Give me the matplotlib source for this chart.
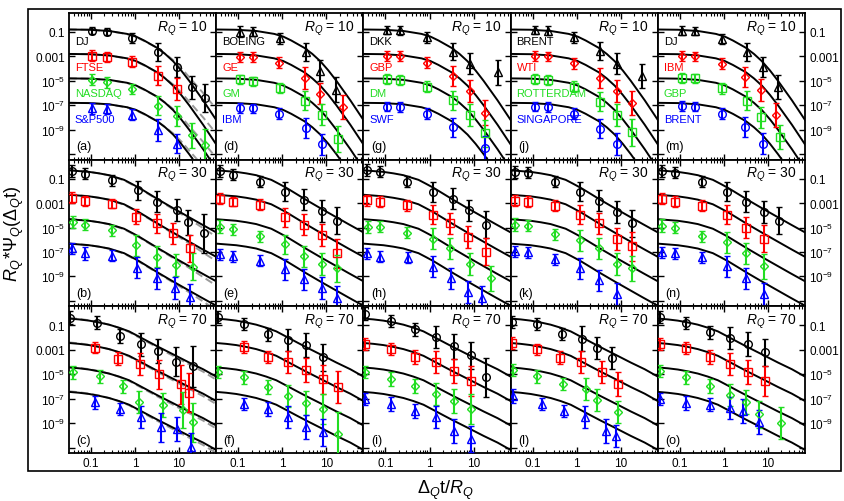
import numpy as np
import matplotlib.pyplot as plt
from matplotlib.patches import Rectangle
from matplotlib.ticker import FixedLocator, FixedFormatter, NullLocator, NullFormatter

plt.rcParams['font.family'] = ['Liberation Sans', 'DejaVu Sans']
plt.rcParams['mathtext.fontset'] = 'custom'
plt.rcParams['mathtext.rm'] = 'Liberation Sans'
plt.rcParams['mathtext.it'] = 'Liberation Sans:italic'

# fitted scaling curves (top series); lower series are shifted by 1e-2 each
fit1_x = [0.0316, 0.0901, 0.256, 0.658, 1.05, 1.6, 3.16, 4.81, 7.31, 11.1, 16.9, 35.1, 69.3]
fit1_logy = [-0.80, -0.82, -0.92, -1.16, -1.38, -1.7, -2.3, -2.8, -3.4, -4.15, -5.0, -6.6, -8.2]
gray1_logy = [-0.80, -0.82, -0.93, -1.18, -1.42, -1.74, -2.3, -2.78, -3.3, -3.95, -4.7, -6.0, -7.3]
fit2_x = [0.0316, 0.0901, 0.152, 0.256, 0.562, 0.811, 1.23, 2.08, 3.51, 7.31, 15.2, 31.6, 69.3]
fit2_logy = [-0.32, -0.45, -0.57, -0.72, -1.1, -1.4, -1.75, -2.25, -2.75, -3.42, -4.07, -4.72, -5.4]
gray2_logy = [-0.3, -0.44, -0.57, -0.74, -1.14, -1.45, -1.8, -2.3, -2.8, -3.5, -4.2, -4.95, -5.75]
fit3_x = [0.0316, 0.0534, 0.0901, 0.152, 0.256, 0.433, 0.731, 1.23, 2.08, 3.51, 7.7, 16.9, 35.1, 69.3]
fit3_logy = [-0.45, -0.52, -0.62, -0.77, -0.95, -1.2, -1.5, -1.93, -2.37, -2.8, -3.42, -4.05, -4.6, -5.2]
gray3_logy = [-0.4, -0.48, -0.59, -0.75, -0.95, -1.22, -1.55, -2.0, -2.45, -2.9, -3.55, -4.2, -4.8, -5.45]

rq_values = [10, 30, 70]
names = [["DJ", "FTSE", "NASDAQ", "S&P500"],
         ["BOEING", "GE", "GM", "IBM"],
         ["DKK", "GBP", "DM", "SWF"],
         ["BRENT", "WTI", "ROTTERDAM", "SINGAPORE"],
         ["DJ", "IBM", "GBP", "BRENT"]]

# ---- R_Q = 10 ----
a_x = [[0.105, 0.231, 0.855, 3.33, 9.01, 19.7, 39.0], [0.105, 0.231, 0.855, 3.33, 9.01],
       [0.105, 0.231, 0.855, 3.33, 9.01, 19.7, 39.0], [0.105, 0.231, 0.855, 3.33, 9.01]]
a_logy = [[-0.89, -0.98, -1.52, -2.66, -3.88, -5.52, -6.41], [-2.94, -3.07, -3.42, -4.57, -5.65],
          [-4.92, -5.11, -5.65, -7.02, -7.88, -9.47, -10.23], [-7.23, -7.29, -7.78, -9.06, -10.14]]
a_err = [[0.3, 0.3, 0.4, 0.75, 0.8, 0.95, 1.15], [0.45, 0.4, 0.45, 0.8, 0.9],
         [0.45, 0.45, 0.4, 0.8, 0.85, 1.0, 1.3], [0.45, 0.4, 0.45, 0.9, 0.75]]

d_x = [[0.111, 0.219, 0.901, 3.51, 7.31, 16.9], [0.111, 0.219, 0.855, 3.33, 7.31, 24.3],
       [0.111, 0.219, 0.901, 3.33, 8.11, 18.7], [0.111, 0.219, 0.855, 3.51, 8.11]]
d_logy = [[-0.98, -0.98, -1.52, -2.66, -4.16, -5.71], [-3.07, -3.07, -3.53, -4.78, -6.06, -7.15],
          [-4.89, -5.05, -5.57, -6.61, -7.78, -9.74], [-7.2, -7.26, -7.7, -8.87, -10.2]]
d_err = [[0.45, 0.35, 0.45, 0.75, 0.85, 1.05], [0.4, 0.4, 0.45, 0.9, 0.85, 1.0],
         [0.35, 0.4, 0.4, 0.8, 0.85, 1.05], [0.4, 0.35, 0.45, 0.8, 0.85]]

g_x = [[0.111, 0.219, 0.855, 3.33, 8.11, 35.1], [0.111, 0.219, 0.855, 3.33, 8.11, 17.8],
       [0.111, 0.219, 0.855, 3.33, 8.11, 17.8], [0.111, 0.219, 0.855, 3.33, 17.8]]
g_logy = [[-0.85, -0.88, -1.45, -2.6, -3.6, -4.3], [-2.95, -2.98, -3.5, -4.6, -5.8, -7.6],
          [-4.85, -4.9, -5.5, -6.6, -7.8, -9.3], [-7.1, -7.15, -7.7, -8.8, -10.5]]
g_err = [[0.35, 0.35, 0.45, 0.7, 0.85, 1.0], [0.4, 0.4, 0.45, 0.8, 0.9, 1.0],
         [0.4, 0.4, 0.45, 0.8, 0.9, 1.1], [0.4, 0.4, 0.45, 0.8, 1.0]]

j_x = [[0.111, 0.219, 0.855, 3.33, 8.11, 30.0], [0.111, 0.219, 0.855, 3.33, 8.11, 17.8],
       [0.111, 0.219, 0.855, 3.33, 8.11, 17.8], [0.111, 0.219, 0.855, 3.33, 8.11]]
j_logy = [[-0.85, -0.9, -1.45, -2.55, -3.6, -4.6], [-2.95, -3.0, -3.55, -4.75, -5.85, -6.8],
          [-4.85, -4.9, -5.5, -6.7, -7.8, -9.2], [-7.1, -7.15, -7.7, -8.9, -10.2]]
j_err = [[0.35, 0.35, 0.45, 0.75, 0.85, 1.0], [0.4, 0.4, 0.45, 0.8, 0.9, 1.0],
         [0.4, 0.4, 0.45, 0.8, 0.9, 1.1], [0.4, 0.4, 0.45, 0.8, 0.9]]

m_x = [[0.111, 0.219, 0.901, 3.33, 7.7, 16.9], [0.111, 0.219, 0.901, 3.0, 6.93, 15.2],
       [0.111, 0.219, 0.901, 3.33, 6.93, 18.7], [0.111, 0.219, 0.901, 3.0, 7.7]]
m_logy = [[-0.9, -0.92, -1.57, -2.66, -3.88, -5.52], [-2.96, -3.0, -3.61, -4.7, -5.79, -7.78],
          [-4.76, -4.8, -5.6, -6.61, -7.97, -9.6], [-7.04, -7.1, -7.69, -8.78, -10.14]]
m_err = [[0.35, 0.35, 0.4, 0.75, 0.8, 1.0], [0.4, 0.4, 0.45, 0.8, 0.9, 1.0],
         [0.4, 0.4, 0.45, 0.8, 0.85, 1.0], [0.4, 0.4, 0.45, 0.8, 0.85]]

# ---- R_Q = 30 ----
b_x = [[0.037, 0.0731, 0.3, 1.17, 3.16, 9.01, 16.0, 37.0], [0.037, 0.0731, 0.3, 1.05, 3.16, 7.31, 17.8],
       [0.039, 0.0731, 0.3, 1.05, 3.16, 8.55, 20.8], [0.037, 0.0731, 0.3, 1.11, 3.16, 8.11, 17.8]]
b_logy = [[-0.40, -0.59, -1.14, -1.96, -2.90, -3.59, -4.59, -5.49],
          [-2.58, -2.85, -3.04, -4.12, -4.67, -5.49, -6.71],
          [-4.54, -4.76, -5.22, -6.45, -7.40, -8.08, -8.21],
          [-6.71, -7.12, -7.31, -8.29, -9.16, -9.92, -10.65]]
b_err = [[0.5, 0.45, 0.45, 0.8, 0.85, 0.9, 1.0, 1.6], [0.45, 0.4, 0.4, 0.6, 0.8, 0.85, 1.1],
         [0.5, 0.45, 0.45, 0.85, 0.85, 0.9, 1.1], [0.45, 0.5, 0.45, 0.85, 0.85, 0.9, 1.0]]

e_x = [[0.039, 0.077, 0.316, 1.17, 3.16, 8.11, 17.8], [0.039, 0.077, 0.316, 1.17, 3.16, 8.11, 17.8],
       [0.039, 0.077, 0.316, 1.17, 3.16, 8.11, 17.8], [0.039, 0.077, 0.316, 1.17, 3.16, 8.11, 17.8]]
e_logy = [[-0.35, -0.67, -1.25, -2.06, -2.72, -3.61, -4.43], [-2.63, -2.88, -3.12, -4.18, -4.76, -5.65, -7.12],
          [-4.92, -5.16, -5.73, -6.39, -7.37, -8.02, -8.35], [-7.2, -7.37, -7.7, -8.43, -9.25, -9.98, -10.8]]
e_err = [[0.5, 0.45, 0.45, 0.8, 0.85, 0.9, 1.1], [0.45, 0.4, 0.45, 0.8, 0.85, 0.9, 1.2],
         [0.5, 0.45, 0.45, 0.8, 0.85, 0.9, 1.1], [0.45, 0.45, 0.45, 0.85, 0.85, 0.9, 1.0]]

h_x = [[0.039, 0.077, 0.316, 1.23, 3.33, 7.7, 18.7], [0.039, 0.077, 0.316, 1.23, 2.85, 7.31, 18.7],
       [0.0411, 0.077, 0.316, 1.17, 2.85, 8.11, 24.3], [0.039, 0.077, 0.333, 1.23, 3.0, 7.31, 15.2]]
h_logy = [[-0.32, -0.45, -1.27, -2.09, -2.63, -3.59, -4.76], [-2.77, -2.90, -3.18, -3.94, -4.67, -5.76, -6.98],
          [-4.94, -4.94, -5.43, -5.90, -6.71, -8.02, -9.16], [-7.12, -7.39, -7.47, -8.21, -9.16, -10.25, -10.8]]
h_err = [[0.5, 0.45, 0.45, 0.8, 0.85, 0.85, 1.1], [0.45, 0.45, 0.45, 0.8, 0.85, 0.9, 1.1],
         [0.5, 0.45, 0.45, 0.85, 0.85, 0.9, 1.0], [0.45, 0.45, 0.45, 0.85, 0.85, 0.9, 1.0]]

k_x = [[0.039, 0.077, 0.316, 1.17, 3.16, 8.11, 17.8], [0.039, 0.077, 0.316, 1.17, 3.16, 8.11, 17.8],
       [0.039, 0.077, 0.316, 1.17, 3.16, 8.11, 17.8], [0.039, 0.077, 0.316, 1.17, 3.16, 8.11]]
k_logy = [[-0.43, -0.51, -1.25, -2.06, -2.8, -3.7, -4.67], [-2.8, -2.88, -3.2, -3.94, -4.67, -5.9, -6.55],
          [-4.76, -4.84, -5.57, -6.06, -6.71, -8.02, -8.35], [-6.96, -7.04, -7.61, -8.35, -9.33, -10.47]]
k_err = [[0.5, 0.45, 0.45, 0.8, 0.85, 0.9, 1.1], [0.45, 0.45, 0.45, 0.8, 0.85, 0.9, 1.2],
         [0.5, 0.45, 0.45, 0.85, 0.85, 0.9, 1.0], [0.45, 0.45, 0.45, 0.85, 0.85, 0.9]]

n_x = [[0.039, 0.077, 0.316, 1.17, 3.16, 8.11, 17.8], [0.039, 0.077, 0.316, 1.17, 3.16, 8.11],
       [0.039, 0.077, 0.316, 1.17, 3.16, 8.11], [0.039, 0.077, 0.316, 1.17, 3.16, 8.11]]
n_logy = [[-0.35, -0.51, -1.25, -2.06, -2.88, -3.7, -4.43], [-2.63, -2.88, -3.2, -3.94, -5.0, -5.9],
          [-4.84, -5.0, -5.73, -6.22, -7.12, -8.18], [-7.04, -7.12, -7.45, -8.18, -9.16, -10.47]]
n_err = [[0.5, 0.45, 0.45, 0.8, 0.85, 0.9, 1.1], [0.45, 0.45, 0.45, 0.8, 0.85, 1.1],
         [0.5, 0.45, 0.45, 0.85, 0.85, 1.0], [0.45, 0.45, 0.45, 0.85, 0.85, 0.9]]

# ---- R_Q = 70 ----
c_x = [[0.0333, 0.137, 0.456, 1.37, 3.33, 8.55, 20.8], [0.123, 0.411, 1.3, 3.51, 11.1, 16.9],
       [0.039, 0.16, 0.534, 1.23, 4.33, 12.3, 20.8], [0.123, 0.456, 1.37, 3.9, 9.01, 18.7]]
c_logy = [[-0.37, -0.78, -1.87, -2.55, -3.09, -3.99, -4.37], [-2.82, -3.72, -4.18, -5.0, -5.82, -6.5],
          [-4.86, -5.19, -6.0, -7.31, -7.53, -7.92, -8.94], [-7.31, -7.86, -8.54, -9.36, -9.49, -10.98]]
c_err = [[0.55, 0.5, 0.55, 0.95, 1.0, 1.2, 1.7], [0.45, 0.5, 0.9, 1.2, 1.6, 1.6],
         [0.55, 0.55, 0.55, 0.9, 1.0, 1.5, 1.6], [0.5, 0.5, 0.9, 1.2, 1.0, 1.2]]

f_x = [[0.0351, 0.137, 0.481, 1.37, 3.51, 8.55], [0.137, 0.481, 1.37, 3.51, 8.55, 18.7],
       [0.0351, 0.137, 0.481, 1.37, 3.51, 8.55, 18.7], [0.137, 0.481, 1.37, 3.51, 8.55]]
f_logy = [[-0.35, -0.92, -1.74, -2.23, -2.63, -3.61], [-2.8, -3.61, -4.02, -4.67, -5.41, -6.06],
          [-4.84, -5.25, -6.06, -6.8, -7.37, -7.86, -9.9], [-7.45, -7.86, -8.51, -9.33, -9.74]]
f_err = [[0.5, 0.5, 0.55, 0.9, 1.0, 1.1], [0.5, 0.5, 0.9, 1.0, 1.2, 1.3],
         [0.5, 0.55, 0.55, 0.9, 1.0, 1.2, 1.8], [0.5, 0.55, 0.9, 1.0, 1.1]]

i_x = [[0.0351, 0.137, 0.481, 1.37, 3.51, 8.55, 18.7], [0.0351, 0.137, 0.481, 1.37, 3.51, 8.55],
       [0.0351, 0.137, 0.481, 1.37, 3.51, 8.55], [0.0351, 0.137, 0.481, 1.37, 3.51, 8.55]]
i_logy = [[-0.04, -0.67, -1.33, -1.98, -2.72, -3.45, -5.25], [-2.55, -2.96, -3.61, -4.02, -4.76, -5.57],
          [-4.84, -5.41, -5.98, -6.63, -7.2, -7.86], [-7.04, -7.45, -8.02, -8.51, -9.65, -10.3]]
i_err = [[0.5, 0.5, 0.55, 0.9, 1.0, 1.1, 1.6], [0.5, 0.5, 0.55, 0.9, 1.0, 1.2],
         [0.5, 0.55, 0.55, 0.9, 1.0, 1.2], [0.5, 0.55, 0.55, 0.9, 1.0, 1.1]]

l_x = [[0.0333, 0.123, 0.456, 1.3, 2.85, 6.24], [0.0333, 0.123, 0.411, 1.23, 3.7, 8.55],
       [0.0351, 0.123, 0.481, 1.6, 2.85, 8.55], [0.0351, 0.16, 0.507, 1.52, 4.56, 7.7]]
l_logy = [[-0.73, -0.92, -1.74, -2.09, -2.82, -3.64], [-2.47, -2.96, -3.64, -4.0, -4.81, -5.82],
          [-4.67, -5.19, -5.82, -6.23, -7.10, -8.08], [-6.77, -7.45, -8.0, -8.54, -9.63, -10.04]]
l_err = [[0.5, 0.5, 0.5, 1.0, 0.9, 0.9], [0.5, 0.45, 0.5, 0.9, 0.9, 1.0],
         [0.5, 0.55, 0.5, 0.9, 0.9, 0.9], [0.55, 0.5, 0.5, 0.9, 1.0, 0.9]]

o_x = [[0.0351, 0.137, 0.481, 1.37, 3.51, 8.55], [0.0351, 0.137, 0.481, 1.37, 3.51, 8.55],
       [0.0351, 0.137, 0.481, 1.37, 3.16, 6.24, 19.7], [0.0351, 0.137, 0.481, 1.37, 2.72, 6.24]]
o_logy = [[-0.35, -0.84, -1.57, -2.06, -2.55, -3.2], [-2.55, -2.88, -3.61, -4.18, -4.84, -5.57],
          [-4.76, -5.25, -5.98, -6.71, -7.29, -8.27, -9.0], [-7.04, -7.37, -7.5, -7.8, -8.02, -8.92]]
o_err = [[0.5, 0.5, 0.55, 0.9, 1.0, 1.1], [0.5, 0.5, 0.55, 0.9, 1.0, 1.2],
         [0.5, 0.55, 0.55, 0.9, 1.0, 1.1, 1.3], [0.5, 0.55, 0.55, 0.9, 1.0, 1.0]]

panels = [[(a_x, a_logy, a_err), (d_x, d_logy, d_err), (g_x, g_logy, g_err), (j_x, j_logy, j_err), (m_x, m_logy, m_err)],
          [(b_x, b_logy, b_err), (e_x, e_logy, e_err), (h_x, h_logy, h_err), (k_x, k_logy, k_err), (n_x, n_logy, n_err)],
          [(c_x, c_logy, c_err), (f_x, f_logy, f_err), (i_x, i_logy, i_err), (l_x, l_logy, l_err), (o_x, o_logy, o_err)]]
fits = [(fit1_x, fit1_logy, gray1_logy), (fit2_x, fit2_logy, gray2_logy), (fit3_x, fit3_logy, gray3_logy)]
letters = [["a", "d", "g", "j", "m"], ["b", "e", "h", "k", "n"], ["c", "f", "i", "l", "o"]]

colors = ['black', '#ff0000', '#22dd22', '#0000ff']

W, H = 845, 502
fig = plt.figure(figsize=(W / 100, H / 100), dpi=100)

left0, top0 = 69, 14
pw, ph = (805 - 69) / 5, (454 - 14) / 3

for r in range(3):
    for c in range(5):
        ax = fig.add_axes([(left0 + c * pw) / W, 1 - (top0 + (r + 1) * ph) / H, pw / W, ph / H])
        ax.set_xscale('log')
        ax.set_yscale('log')
        fx, fl, gl = fits[r]
        for k in range(4):
            shift = 10.0 ** (-2 * k)
            if c == 0:
                ax.plot(fx, 10.0 ** np.array(gl) * shift, color='#9a9a9a', lw=1.4,
                        dashes=(4, 2), zorder=2)
            ax.plot(fx, 10.0 ** np.array(fl) * shift, color='black', lw=1.4, zorder=2.5)
        if r == 0 and c > 0:
            markers = ['^', 'D', 's', 'o']
        else:
            markers = ['o', 's', 'D', '^']
        xs, ls, es = panels[r][c]
        for k in range(4):
            y = 10.0 ** np.array(ls[k])
            e = np.array(es[k])
            ms = 4.2 if markers[k] == 'D' else 5.5
            ax.errorbar(xs[k], y, yerr=[y - y * 10.0 ** -e, y * 10.0 ** e - y], fmt=markers[k],
                        color=colors[k], mfc='none', ms=ms, mew=1.0, elinewidth=1.5,
                        capsize=2, capthick=1.5, zorder=3)
        ax.set_xlim(0.0316, 69.3)
        ax.set_ylim(10 ** -11.45, 10 ** 0.55)
        ax.yaxis.set_major_locator(FixedLocator([1e1, 1e-1, 1e-3, 1e-5, 1e-7, 1e-9, 1e-11]))
        ax.yaxis.set_major_formatter(FixedFormatter(['', '0.1', '0.001', r'$10^{-5}$', r'$10^{-7}$',
                                                     r'$10^{-9}$', '']))
        ax.yaxis.set_minor_locator(NullLocator())
        ax.xaxis.set_major_locator(FixedLocator([0.1, 1, 10]))
        ax.xaxis.set_major_formatter(FixedFormatter(['0.1', '1', '10']))
        ax.xaxis.set_minor_formatter(NullFormatter())
        ax.tick_params(which='both', direction='in', top=True, right=True, labelsize=8.5, pad=3)
        ax.tick_params(which='major', length=4, width=1.0)
        ax.tick_params(which='minor', length=2, width=0.8)
        ax.tick_params(axis='y', labelleft=(c == 0), labelright=(c == 4))
        ax.tick_params(axis='x', labelbottom=(r == 2))
        for sp in ax.spines.values():
            sp.set_linewidth(1.3)
        ax.text(0.94, 0.90, r'$R_Q$ = %d' % rq_values[r], transform=ax.transAxes,
                ha='right', va='center', fontsize=10)
        ax.text(0.05, 0.09, '(%s)' % letters[r][c], transform=ax.transAxes,
                ha='left', va='center', fontsize=9)
        if r == 0:
            for k, yy in enumerate([0.81, 0.635, 0.455, 0.28]):
                ax.text(0.04, yy, names[c][k], transform=ax.transAxes, ha='left', va='center',
                        fontsize=8, color=colors[k])

fig.patches.append(Rectangle((28 / W, 1 - 472 / H), (841 - 28) / W, (472 - 10) / H,
                             transform=fig.transFigure, fill=False, lw=1.2, edgecolor='black'))
fig.text(14 / W, 1 - 234 / H, r'$R_Q$*$\Psi_Q$($\Delta_Q$t)', rotation=90, ha='center', va='center',
         fontsize=13)
fig.text(445 / W, 1 - 490 / H, r'$\Delta_Q$t/$R_Q$', ha='center', va='center', fontsize=13)

fig.savefig('out.png', dpi=100)
